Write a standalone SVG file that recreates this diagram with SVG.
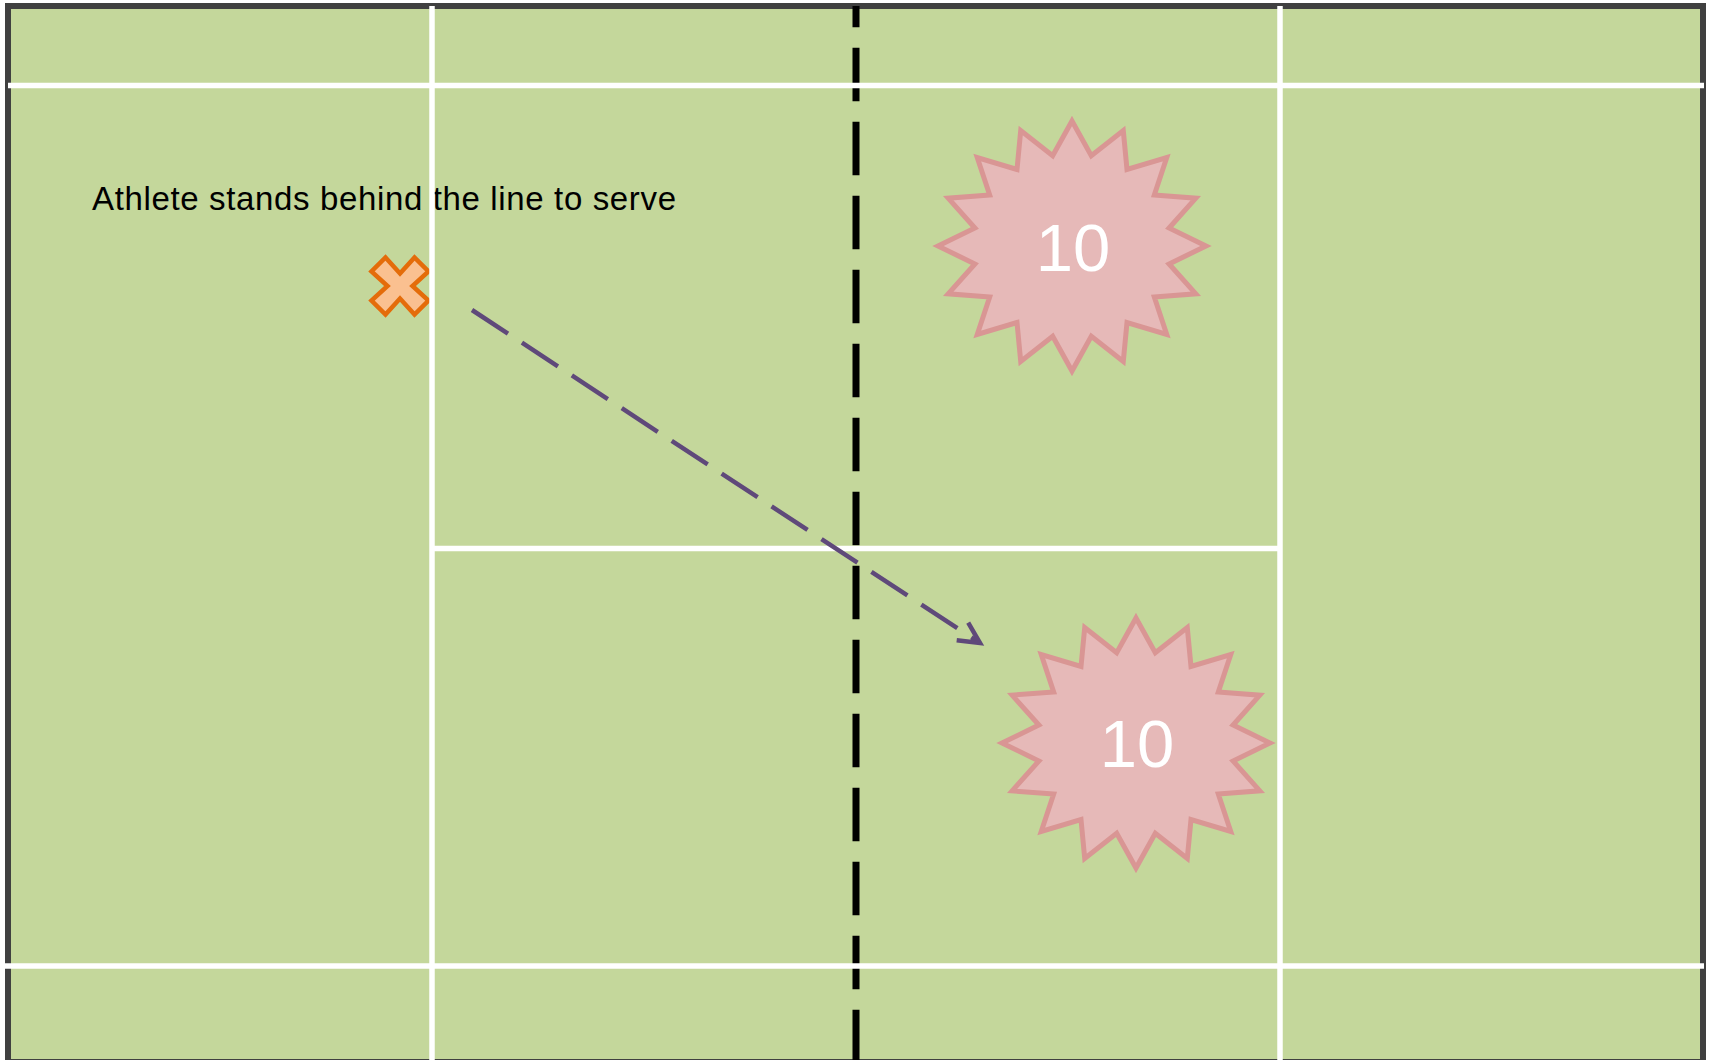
<svg xmlns="http://www.w3.org/2000/svg" xmlns:xlink="http://www.w3.org/1999/xlink" width="1711" height="1060" viewBox="0 0 1711 1060">
  <style>
    .court { fill: #C4D79B; stroke: #404040; stroke-width: 6; }
    .wline { stroke: #FFFFFF; stroke-width: 5.5; fill: none; }
    .net { stroke: #000000; stroke-width: 7; stroke-dasharray: 53.5 20.5; stroke-dashoffset: 32.2; fill: none; }
    .serve { stroke: #5F497A; stroke-width: 4.5; stroke-dasharray: 43 16.7; fill: none; }
    .label { font-family: "Liberation Sans", Arial, sans-serif; font-size: 33px; fill: #000000; }
    .target { fill: #E6B9B8; stroke: #D99694; stroke-width: 5; stroke-linejoin: miter; stroke-miterlimit: 10; }
    .num { font-family: "Liberation Sans", Arial, sans-serif; font-size: 67px; fill: #FFFFFF; text-anchor: middle; }
    .athlete { fill: #FAC090; stroke: #E46C0A; stroke-width: 4.5; stroke-linejoin: miter; }
  </style>
  <defs>
    <polygon id="star16" points="0,-125 19.31,-90.23 51.28,-115.49 55.0,-76.5 94.75,-88.39 82.31,-51.11 123.8,-47.84 97.1,-17.95 134,0 97.1,17.95 123.8,47.84 82.31,51.11 94.75,88.39 55.0,76.5 51.28,115.49 19.31,90.23 0,125 -19.31,90.23 -51.28,115.49 -55.0,76.5 -94.75,88.39 -82.31,51.11 -123.8,47.84 -97.1,17.95 -134,0 -97.1,-17.95 -123.8,-47.84 -82.31,-51.11 -94.75,-88.39 -55.0,-76.5 -51.28,-115.49 -19.31,-90.23"/>
    <marker id="openArrow" markerUnits="userSpaceOnUse" markerWidth="40" markerHeight="40" refX="0" refY="0" orient="auto" overflow="visible">
      <path d="M-21,-10.5 L0,0 L-21,10.5" fill="none" stroke="#5F497A" stroke-width="4.5" stroke-dasharray="none" stroke-linejoin="miter"/>
    </marker>
  </defs>

  <g id="court">
    <rect class="court" x="8" y="6" width="1695" height="1056"/>
  </g>

  <g id="label">
    <text class="label" x="92" y="210" textLength="584" lengthAdjust="spacing">Athlete stands behind the line to serve</text>
  </g>

  <g id="athlete">
    <polygon class="athlete" transform="translate(400,286)" points="0,-12.5 14.5,-28.5 28.5,-14.5 12.5,0 28.5,14.5 14.5,28.5 0,12.5 -14.5,28.5 -28.5,14.5 -12.5,0 -28.5,-14.5 -14.5,-28.5"/>
  </g>

  <g id="net">
    <line class="net" x1="856" y1="6" x2="856" y2="1060"/>
  </g>

  <g id="court-lines">
    <line class="wline" x1="8" y1="85.5" x2="1704" y2="85.5"/>
    <line class="wline" x1="5" y1="966" x2="1704" y2="966"/>
    <line class="wline" x1="432" y1="6" x2="432" y2="1060"/>
    <line class="wline" x1="1280" y1="6" x2="1280" y2="1060"/>
    <line class="wline" x1="432" y1="548.5" x2="1280" y2="548.5"/>
  </g>

  <g id="target-1">
    <use xlink:href="#star16" href="#star16" class="target" x="1072" y="246"/>
    <text class="num" x="1073" y="271">10</text>
  </g>

  <g id="target-2">
    <use xlink:href="#star16" href="#star16" class="target" x="1136" y="743"/>
    <text class="num" x="1137" y="767">10</text>
  </g>

  <g id="connectors">
    <line class="serve" x1="472" y1="310" x2="980" y2="643" marker-end="url(#openArrow)"/>
  </g>
</svg>
